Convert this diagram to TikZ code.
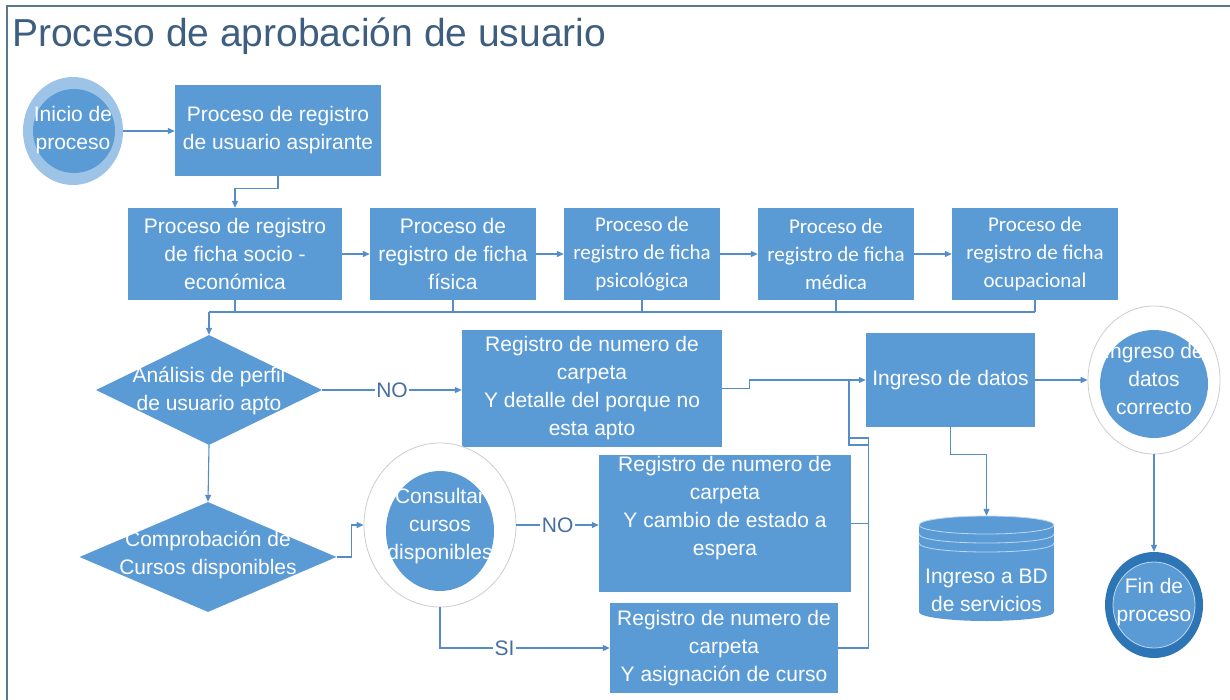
\documentclass[tikz,border=0pt]{standalone}
\usepackage{fontspec}
\setmainfont{Liberation Sans}
\newfontfamily\calib{Carlito}
\usetikzlibrary{shapes.geometric,arrows.meta}
\definecolor{boxblue}{RGB}{91,155,213}
\definecolor{ringblue}{RGB}{157,195,230}
\definecolor{darkring}{RGB}{46,117,182}
\definecolor{linec}{RGB}{84,141,200}
\definecolor{titlec}{RGB}{62,94,128}
\definecolor{framec}{RGB}{90,120,140}
\definecolor{labc}{RGB}{70,110,160}
\definecolor{ringgray}{RGB}{205,205,205}
\definecolor{stripe}{RGB}{190,215,240}
\begin{document}
\begin{tikzpicture}[x=1pt,y=-1pt,
  box/.style={fill=boxblue, inner sep=0pt, text=white, align=center, font=\fontsize{21}{28}\selectfont},
  cbox/.style={box, font=\calib\fontsize{21}{28}\selectfont},
  txt/.style={text=white, align=center, inner sep=0pt, font=\fontsize{21}{28}\selectfont},
  dia/.style={diamond, fill=boxblue, inner sep=0pt, aspect=1},
  ell/.style={ellipse, inner sep=0pt},
  conn/.style={draw=linec, line width=1.1pt},
  arr/.style={conn, -{Triangle[length=7pt,width=6pt]}},
  lbl/.style={fill=white, text=labc, inner sep=1.5pt, font=\fontsize{21}{24}\selectfont}]
\useasboundingbox (0,0) rectangle (1230,700);
\fill[white] (0,0) rectangle (1230,700);
% frame
\draw[framec, line width=1.5pt] (7,700) -- (7,6) -- (1230,6);
% title
\node[anchor=base west, text=titlec, inner sep=0pt, font=\fontsize{39}{44}\selectfont] (title) at (12,47) {Proceso de aprobación de usuario};
% start
\node[ell, fill=ringblue, minimum width=100, minimum height=108] (ini) at (73,131) {};
\node[ell, fill=boxblue, minimum width=82, minimum height=84] (inii) at (74,131) {};
\node[txt] (init) at (73,130) {Inicio de\\proceso};
% boxes
\node[box, minimum width=206, minimum height=91] (b1) at (278,130.5) {Proceso de registro\\de usuario aspirante};
\node[box, minimum width=214, minimum height=92] (b2) at (235,254) {Proceso de registro\\de ficha socio -\\económica};
\node[box, minimum width=166, minimum height=92] (b3) at (453,254) {Proceso de\\registro de ficha\\física};
\node[cbox, minimum width=156, minimum height=92] (b4) at (642,254) {Proceso de\\registro de ficha\\psicológica};
\node[cbox, minimum width=156, minimum height=92] (b5) at (836,254) {Proceso de\\registro de ficha\\médica};
\node[cbox, minimum width=166, minimum height=92] (b6) at (1035,254) {Proceso de\\registro de ficha\\ocupacional};
% diamonds
\node[dia, minimum width=226, minimum height=110] (d1) at (209,390) {};
\node[txt] (d1t) at (209,391) {Análisis de perfil\\de usuario apto};
\node[dia, minimum width=257, minimum height=110] (d2) at (208,557) {};
\node[txt] (d2t) at (208,555) {Comprobación de\\Cursos disponibles};
% register boxes
\node[box, minimum width=260, minimum height=117] (r1) at (592,388.5) {Registro de numero de\\carpeta\\Y detalle del porque no\\esta apto};
\node[box, minimum width=252, minimum height=137] (r2) at (725,523.5) {};
\node[txt] (r2t) at (725,508) {Registro de numero de\\carpeta\\Y cambio de estado a\\espera};
\node[box, minimum width=228, minimum height=90] (r3) at (724,648) {Registro de numero de\\carpeta\\Y asignación de curso};
% consultar
\node[ell, fill=white, draw=ringgray, line width=0.8pt, minimum width=152, minimum height=164] (co) at (440,525) {};
\node[ell, fill=boxblue, minimum width=108, minimum height=120] (coi) at (440,531) {};
\node[txt] (cot) at (440,526) {Consultar\\cursos\\disponibles};
% ingreso de datos
\node[box, minimum width=169, minimum height=94] (ing) at (950.5,380) {Ingreso de datos};
% ingreso correcto
\node[ell, fill=white, draw=ringgray, line width=0.8pt, minimum width=132, minimum height=148] (ic) at (1154,380) {};
\node[ell, fill=boxblue, minimum width=108, minimum height=108] (ici) at (1154,384) {};
\node[txt] (ict) at (1154,379) {Ingreso de\\datos\\correcto};
% fin
\node[ell, fill=darkring, minimum width=98, minimum height=106] (fin) at (1154,605) {};
\node[ell, fill=boxblue, draw=stripe, line width=0.8pt, minimum width=82, minimum height=86] (fini) at (1154,605) {};
\node[txt] (fint) at (1154,602) {Fin de\\proceso};
% cylinder
\fill[boxblue] (919,525) rectangle (1054,612);
\fill[boxblue] (986.5,612) ellipse (67.5 and 9);
\fill[boxblue] (986.5,525) ellipse (67.5 and 9);
\draw[stripe, line width=0.8pt] (986.5,525) ellipse (67.5 and 9);
\draw[stripe, line width=0.8pt] (919,534) .. controls (919,546) and (1054,546) .. (1054,534);
\draw[stripe, line width=0.8pt] (919,543) .. controls (919,555) and (1054,555) .. (1054,543);
\node[inner sep=0pt, minimum width=135, minimum height=105] (cyl) at (986.5,568.5) {};
\node[txt] (cylt) at (986.5,590) {Ingreso a BD\\de servicios};
% connectors
\draw[arr] (ini.east) -- (ini.east -| b1.west);
\draw[arr] (b1.south) -- ++(0,12) -| (b2.north);
\draw[arr] (b2) -- (b3);
\draw[arr] (b3) -- (b4);
\draw[arr] (b4) -- (b5);
\draw[arr] (b5) -- (b6);
\coordinate (busL) at (209,312);
\foreach \b in {b2,b3,b4,b5,b6} \draw[conn] (\b.south) -- (\b.south |- busL);
\draw[conn] (busL) -- (busL -| b6.south);
\draw[arr] (busL) -- (d1.north);
\draw[arr] (d1.south) -- (d2.north);
\draw[arr] (d1.east) -- node[lbl]{NO} (d1.east -| r1.west);
\draw[arr] (d2.east) -- ++(15,0) |- (co.west);
\draw[arr] (co.east) -- node[lbl]{NO} (co.east -| r2.west);
\draw[arr] (co.south) |- node[lbl, pos=0.69]{SI} (r3.west);
\coordinate (mj) at (849,380);
\draw[conn] (r2.east) -- ++(17,0) -- ++(0,-78.5) -| (mj);
\draw[conn] (r3.east) -- ++(30,0) -- ++(0,-210) -| (mj);
\draw[arr] (r1.east) -- ++(27,0) |- (ing.west);
\draw[arr] (ing.east) -- (ic.west);
\draw[arr] (ing.south) -- ++(0,27) -| (cyl.north);
\draw[arr] (ic.south) -- (fin.north);
\end{tikzpicture}
\end{document}
